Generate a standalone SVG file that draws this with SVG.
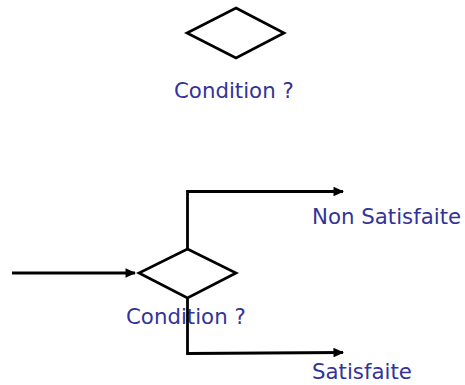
<svg xmlns="http://www.w3.org/2000/svg" width="465" height="385" viewBox="0 0 465 385">
<style>
.shape{fill:none;stroke:#000;stroke-width:2.7;stroke-linejoin:miter}
.conn{fill:none;stroke:#000;stroke-width:2.8}
.lbl{font-family:"DejaVu Sans",Verdana,sans-serif;font-size:21.3px;fill:#333399}
</style>
<defs>
<marker id="ah" viewBox="0 0 10 9" refX="9" refY="4.5" markerWidth="3.8" markerHeight="3.4" orient="auto" markerUnits="strokeWidth">
<path d="M0,0 L10,4.5 L0,9 Z" fill="#000"/>
</marker>
</defs>
<g id="node-top">
<polygon class="shape" points="236,8 284,33 236,58 187,33"/>
<text class="lbl" x="174" y="98">Condition ?</text>
</g>
<g id="node-decision">
<polygon class="shape" points="187.5,249 236,273 187.5,298 139,273"/>
<text class="lbl" x="126" y="324">Condition ?</text>
</g>
<g id="label-non">
<text class="lbl" x="312" y="224">Non Satisfaite</text>
</g>
<g id="label-sat">
<text class="lbl" x="312" y="379">Satisfaite</text>
</g>
<g id="connectors">
<line class="conn" x1="12" y1="273" x2="135" y2="273" marker-end="url(#ah)"/>
<polyline class="conn" points="187.5,249 187.5,191.5 343,191.5" marker-end="url(#ah)"/>
<polyline class="conn" points="187.5,298 187.5,353.5 343,352.5" marker-end="url(#ah)"/>
</g>
</svg>
